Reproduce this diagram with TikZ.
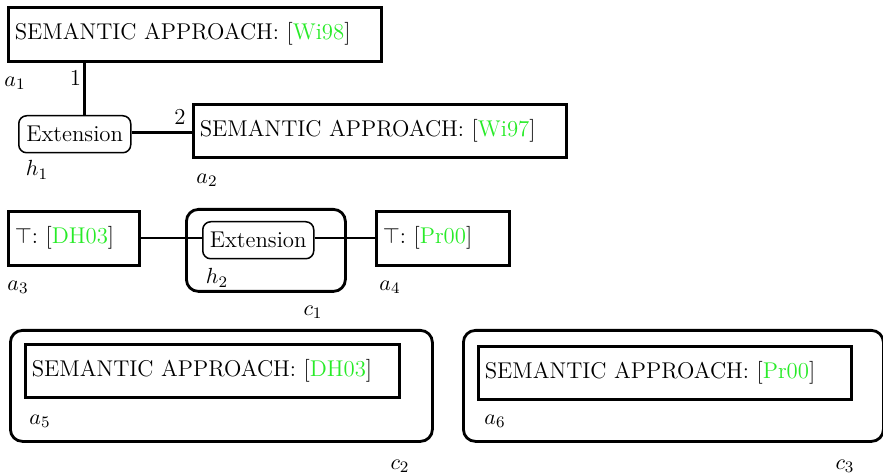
\documentclass[tikz,border=0pt]{standalone}
\usepackage{xcolor}
\definecolor{citegreen}{RGB}{40,235,40}
\newcommand{\cit}[1]{[\textcolor{citegreen}{#1}]}
\frenchspacing
\begin{document}
\begin{tikzpicture}[x=0.5pt,y=-0.5pt,
  every node/.style={font=\fontsize{11.4}{13.5}\selectfont},
  abox/.style={draw,line width=1.3pt,anchor=north west,inner xsep=3pt,align=left},
  hbox/.style={draw,line width=0.75pt,rounded corners=4pt,anchor=north west,inner sep=0pt,align=center},
  cbox/.style={draw,line width=1.4pt,rounded corners=6pt,anchor=north west,inner sep=0pt},
  lab/.style={inner sep=0pt},
  link/.style={line width=1.3pt},
  thinlink/.style={line width=1pt}]
\useasboundingbox (0,0) rectangle (883,475);

% containers
\node[cbox,minimum width=79.5pt,minimum height=41pt] (c1) at (185,208) {};
\node[cbox,minimum width=211pt,minimum height=55.5pt] (c2) at (9,329) {};
\node[cbox,minimum width=210pt,minimum height=55.5pt] (c3) at (462,329) {};

% approach boxes
\node[abox,minimum width=186.5pt,minimum height=27pt,text width=180pt] (a1) at (7,6) {SEMANTIC APPROACH: \cit{Wi98}};
\node[abox,minimum width=186.5pt,minimum height=26.5pt,text width=180pt] (a2) at (192,103) {SEMANTIC APPROACH: \cit{Wi97}};
\node[abox,minimum width=65.5pt,minimum height=27pt,text width=59pt] (a3) at (7,210) {$\top$: \cit{DH03}};
\node[abox,minimum width=66.5pt,minimum height=27pt,text width=60pt] (a4) at (375,210) {$\top$: \cit{Pr00}};
\node[abox,minimum width=187pt,minimum height=26.5pt,text width=180.5pt] (a5) at (24,343) {SEMANTIC APPROACH: \cit{DH03}};
\node[abox,minimum width=186.5pt,minimum height=26.5pt,text width=180pt] (a6) at (477,345) {SEMANTIC APPROACH: \cit{Pr00}};

% hypothesis boxes
\node[hbox,minimum width=56pt,minimum height=18.5pt] (h1) at (18,115) {Extension};
\node[hbox,minimum width=55.5pt,minimum height=18.5pt] (h2) at (202,221) {Extension};

% identifiers
\node[lab] (la1) at (15,83) {$a_1$};
\node[lab] (la2) at (207,180) {$a_2$};
\node[lab] (la3) at (18,287) {$a_3$};
\node[lab] (la4) at (390,287) {$a_4$};
\node[lab] (la5) at (40,421) {$a_5$};
\node[lab] (la6) at (495,421) {$a_6$};
\node[lab] (lh1) at (37,170) {$h_1$};
\node[lab] (lh2) at (217,278) {$h_2$};
\node[lab] (lc1) at (313,312) {$c_1$};
\node[lab] (lc2) at (400,466) {$c_2$};
\node[lab] (lc3) at (845,466) {$c_3$};

% connectors
\draw[link] ([xshift=5pt]h1.north) -- ([xshift=5pt]h1.north |- a1.south)
  node[lab,pos=0.7,left=1.2pt] (n1) {1};
\draw[link] ([yshift=1pt]h1.east) -- ([yshift=1pt]h1.east -| a2.west)
  node[lab,pos=0.8,above=3pt] (n2) {2};
\draw[thinlink] (a3.east) -- (a3.east -| h2.west);
\draw[thinlink] (a4.west -| h2.east) -- (a4.west);
\end{tikzpicture}
\end{document}
